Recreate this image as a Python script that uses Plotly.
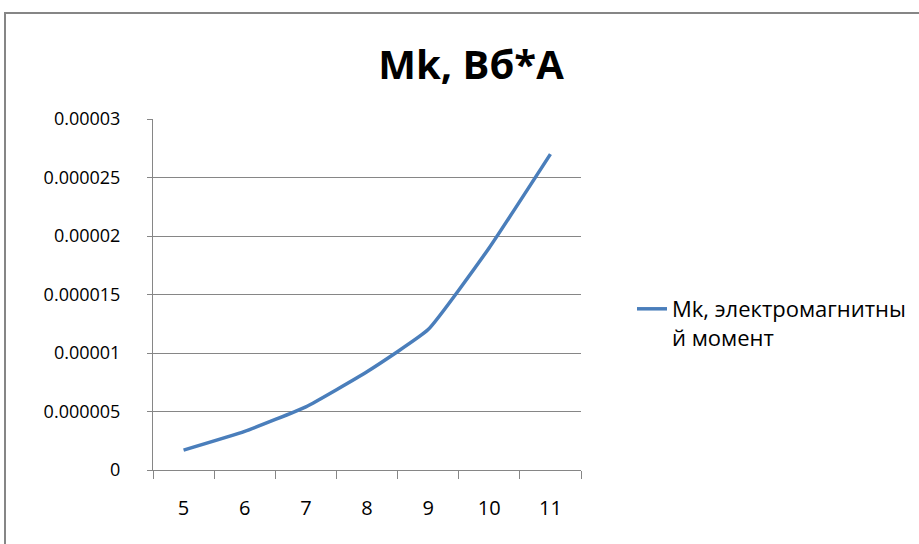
import plotly.graph_objects as go

categories = ["5", "6", "7", "8", "9", "10", "11"]
mk_values = [1.7e-6, 3.3e-6, 5.4e-6, 8.4e-6, 1.2e-5, 1.9e-5, 2.7e-5]
y_tick_vals = [0, 0.000005, 0.00001, 0.000015, 0.00002, 0.000025, 0.00003]
y_tick_text = ["0", "0.000005", "0.00001", "0.000015", "0.00002", "0.000025", "0.00003"]
series_name = "Mk, электромагнитны<br>й момент"
title_text = "Mk, Вб*А"

W, H = 919, 544
L, R, T, B = 153, 581, 119, 470

fig = go.Figure()
fig.add_trace(go.Scatter(
    x=categories, y=mk_values, mode="lines", name=series_name,
    line=dict(color="#4a7ebb", width=3.5, shape="spline", smoothing=0.4),
))

pw, ph = R - L, B - T
def px_x(p):
    return (p - L) / pw
def px_y(p):
    return (B - p) / ph

fig.add_shape(type="rect", xref="paper", yref="paper",
              x0=px_x(5), x1=px_x(930), y0=px_y(560), y1=px_y(13),
              line=dict(color="#868686", width=2), fillcolor="rgba(0,0,0,0)", layer="below")

fig.update_layout(
    width=W, height=H, autosize=False,
    margin=dict(l=L, r=W - R, t=T, b=H - B),
    paper_bgcolor="white", plot_bgcolor="white",
    font=dict(family="Open Sans, DejaVu Sans, sans-serif", size=18, color="#000000"),
    title=dict(text="<b>" + title_text + "</b>", x=471 / W, y=1 - 65 / H,
               xref="container", yref="container", xanchor="center", yanchor="middle",
               font=dict(size=40, family="Open Sans, sans-serif", color="#000000")),
    showlegend=True,
    legend=dict(xref="container", yref="container", x=632 / W, y=1 - 288 / H,
                xanchor="left", yanchor="top", valign="top", bgcolor="rgba(0,0,0,0)",
                font=dict(size=22), tracegroupgap=0),
    xaxis=dict(type="category", range=[-0.5, 6.5], tickson="boundaries", ticks="outside", ticklen=8,
               tickcolor="#868686", showline=True, linecolor="#868686", linewidth=1,
               showgrid=False, tickfont=dict(size=20), ticklabelstandoff=20),
    yaxis=dict(range=[0, 0.00003], tickvals=y_tick_vals, ticktext=y_tick_text,
               ticks="outside", ticklen=5, tickcolor="#868686",
               showline=True, linecolor="#868686", linewidth=1,
               showgrid=True, gridcolor="#868686", gridwidth=1,
               zeroline=False, tickfont=dict(size=18), ticklabelstandoff=23),
)

fig.write_html("out.html", config={"displayModeBar": False},
               post_script="document.body.style.margin='0';")
